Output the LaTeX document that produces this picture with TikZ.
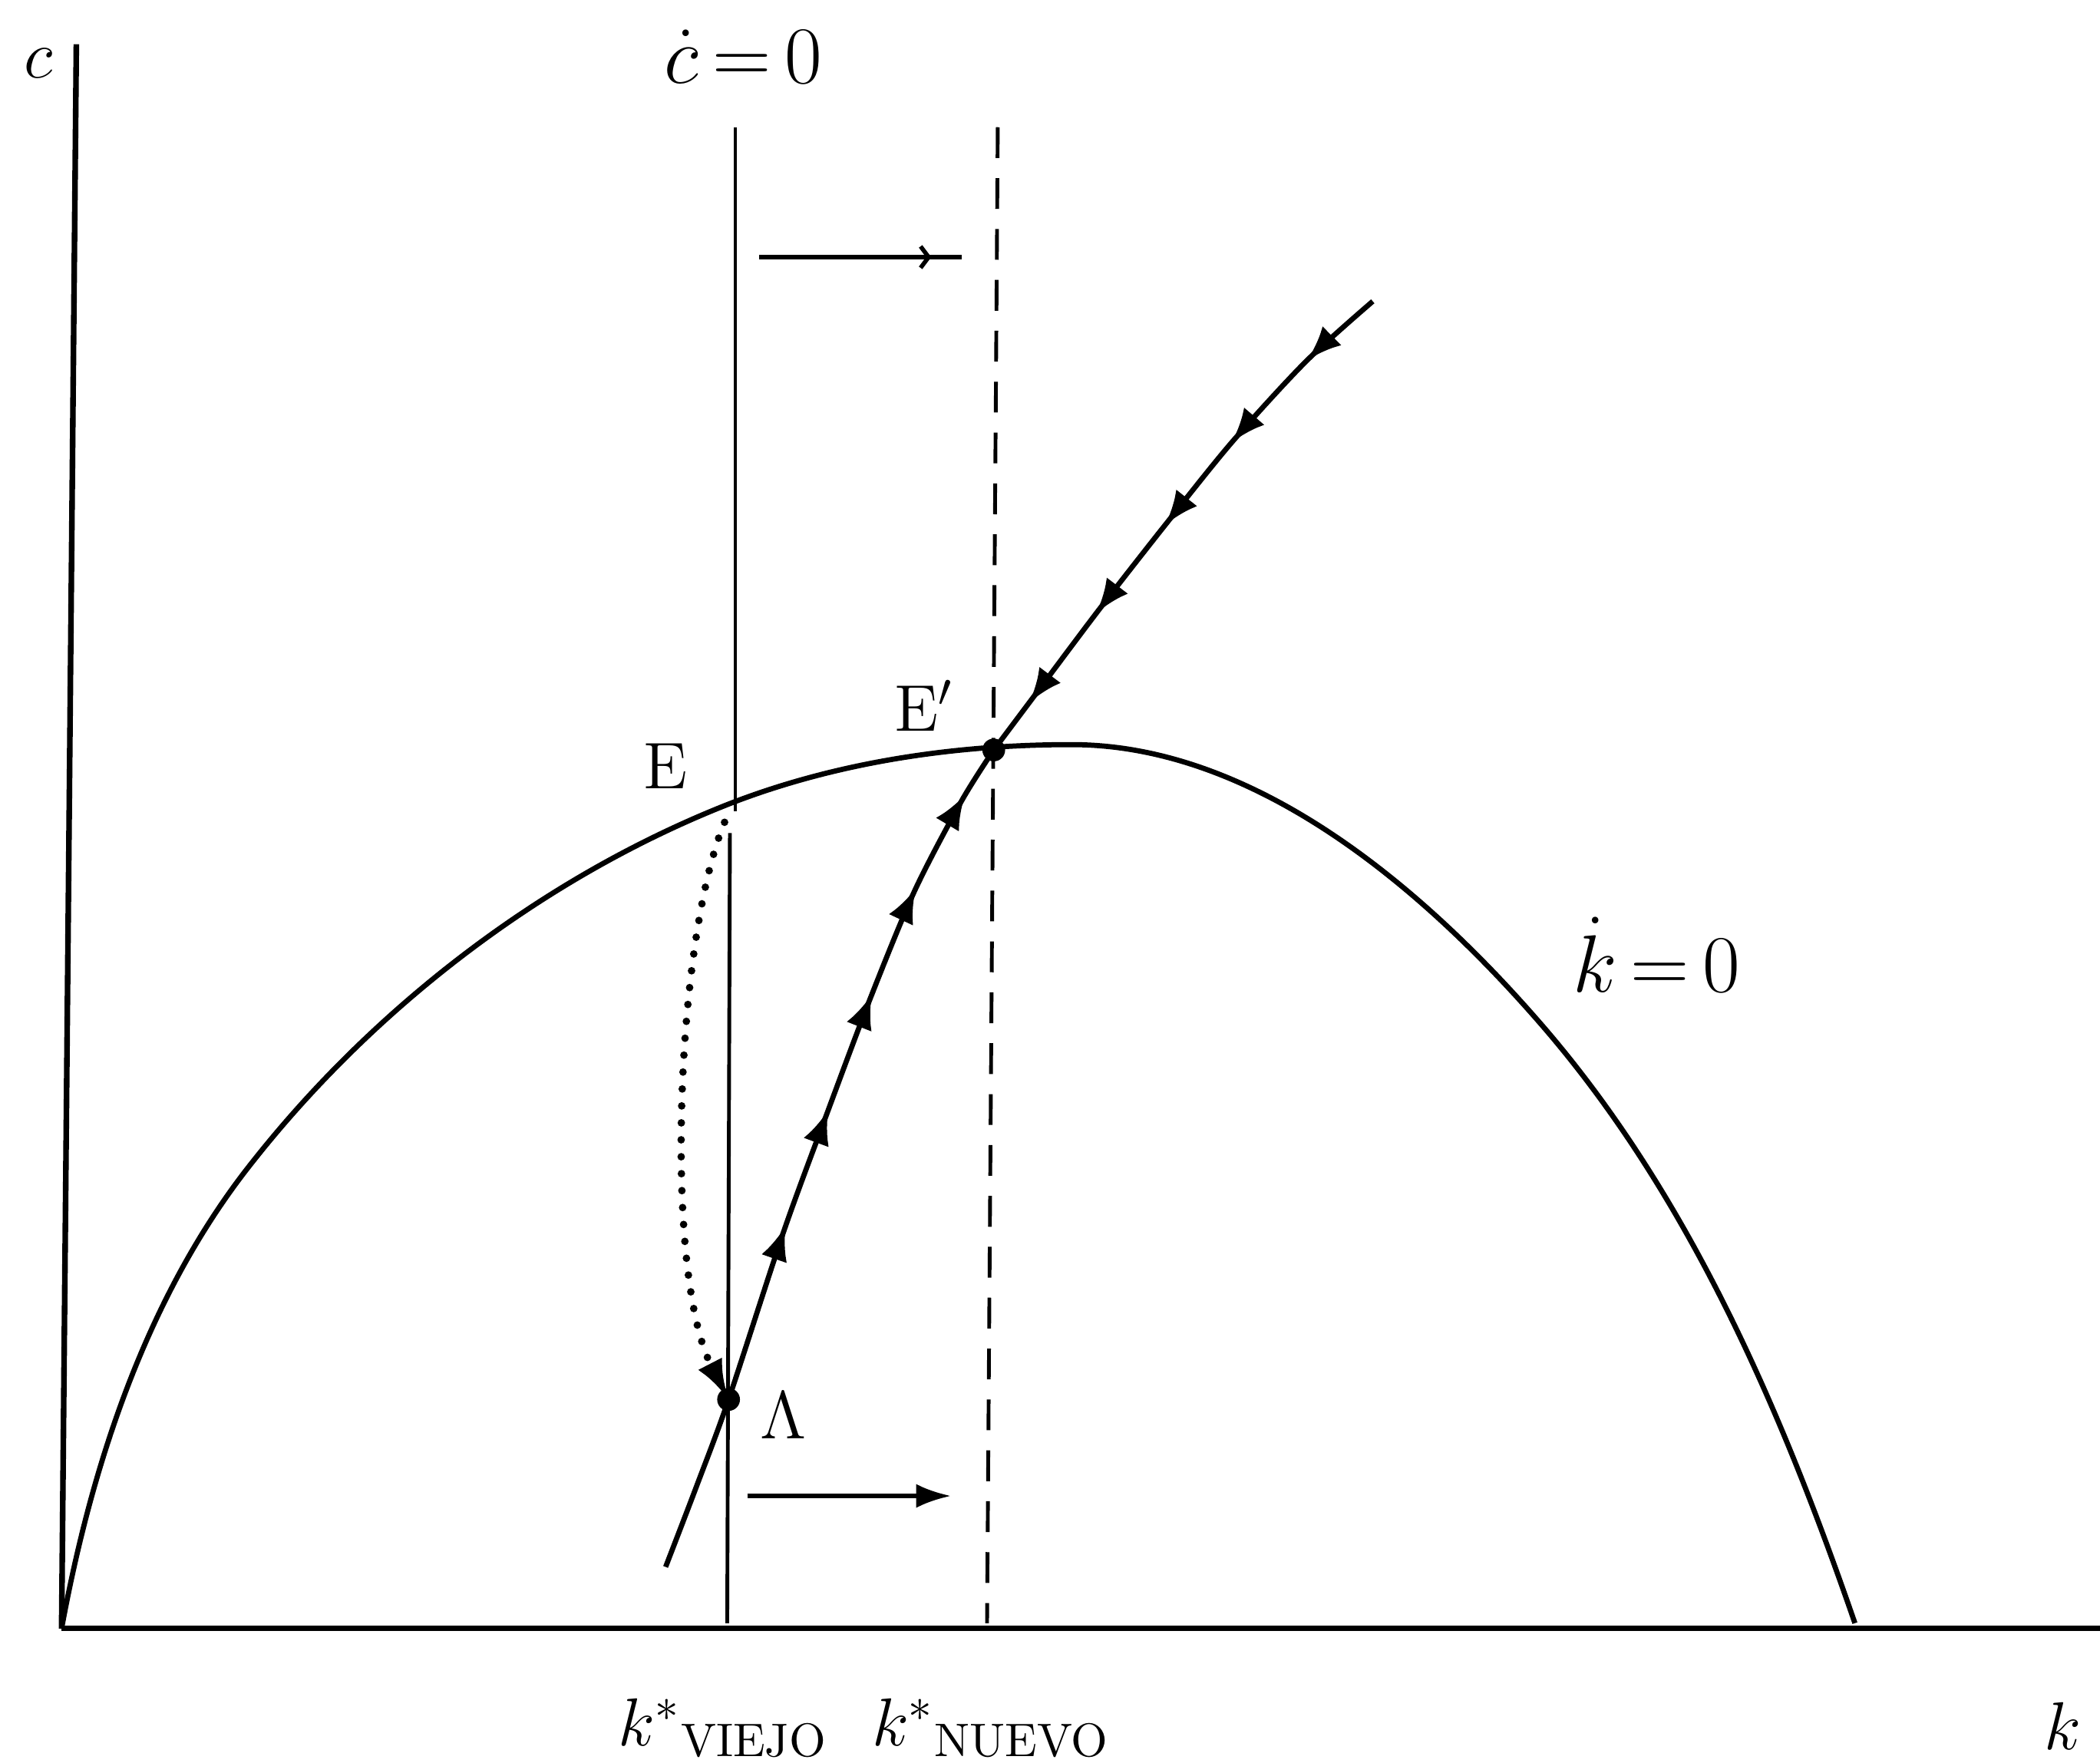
\documentclass[tikz,border=0pt]{standalone}
\usepackage{amsmath}
\usetikzlibrary{arrows.meta, decorations.markings}
\tikzset{
  axis/.style={line width=1.2pt},
  curve/.style={line width=1.1pt, line join=round},
  nullc/.style={line width=0.8pt},
  newnullc/.style={line width=0.8pt, dash pattern=on 2.3mm off 1.5mm},
  moveR/.style={-{Latex[length=2.6mm,width=1.8mm]}, line width=0.9pt},
  faintR/.style={line width=0.9pt, postaction={decorate}, decoration={markings,
      mark=at position 0.85 with {\arrow{Straight Barb[length=0.6mm,width=1.6mm]}}}},
  dotpath/.style={line width=1.6pt, line cap=round, dash pattern=on 0pt off 3.6pt,
                  -{Latex[length=3mm,width=2mm]}},
  eqdot/.style={circle, fill, inner sep=0pt, minimum size=1.7mm},
  lbl/.style={font=\fontsize{16}{18}\selectfont, inner sep=0pt},
  lblE/.style={font=\fontsize{14}{16}\selectfont, inner sep=0pt},
  flowup/.style={postaction={decorate}, decoration={markings,
      mark=at position 0.41 with {\arrow{Latex[length=2.6mm,width=2mm]}},
      mark=at position 0.55 with {\arrow{Latex[length=2.6mm,width=2mm]}},
      mark=at position 0.69 with {\arrow{Latex[length=2.6mm,width=2mm]}},
      mark=at position 0.82 with {\arrow{Latex[length=2.6mm,width=2mm]}},
      mark=at position 0.94 with {\arrow{Latex[length=2.6mm,width=2mm]}}}},
  flowdown/.style={postaction={decorate}, decoration={markings,
      mark=at position 0.15 with {\arrow{Latex[length=2.6mm,width=2mm]}},
      mark=at position 0.34 with {\arrow{Latex[length=2.6mm,width=2mm]}},
      mark=at position 0.52 with {\arrow{Latex[length=2.6mm,width=2mm]}},
      mark=at position 0.71 with {\arrow{Latex[length=2.6mm,width=2mm]}},
      mark=at position 0.90 with {\arrow{Latex[length=2.6mm,width=2mm]}}}}
}

\begin{document}
\begin{tikzpicture}[x=0.1mm, y=-0.1mm]
  \useasboundingbox (0,0) rectangle (1568,1316);

  % Points
  \coordinate (O)    at (46,1216);
  \coordinate (yend) at (57,33);
  \coordinate (xend) at (1568,1216);
  \coordinate (ctop) at (549,95);
  \coordinate (cE)   at (549,606);
  \coordinate (cE2)  at (545,622);
  \coordinate (cbot) at (543,1212);
  \coordinate (ntop) at (745,95);
  \coordinate (nbot) at (737,1212);
  \coordinate (E)    at (541,614);
  \coordinate (A)    at (544,1045);
  \coordinate (Ep)   at (742,560);
  \coordinate (sbot) at (497,1170);
  \coordinate (stop) at (1025,225);
  \coordinate (a1)   at (567,192);
  \coordinate (a2)   at (718,192);
  \coordinate (b1)   at (558,1117);
  \coordinate (b2)   at (710,1117);
  \coordinate (kA)   at (182,876);
  \coordinate (kE)   at (540,602);
  \coordinate (kP)   at (800,556);
  \coordinate (kB)   at (1150,764);
  \coordinate (kend) at (1385,1212);

  % Axes
  \draw[axis] (O) -- (yend);
  \draw[axis] (O) -- (xend);

  % c-dot = 0 (old) and (new)
  \draw[nullc] (ctop) -- (cE);
  \draw[nullc] (cE2) -- (cbot);
  \draw[newnullc] (ntop) -- (nbot);

  % k-dot = 0
  \draw[curve] (O) .. controls (68,1096) and (108,973) .. (kA)
    .. controls (273.5,757) and (401,657.7) .. (kE)
    .. controls (621.7,569.4) and (712,556) .. (kP)
    .. controls (936,556) and (1060.8,661.3) .. (kB)
    .. controls (1260.9,891.6) and (1329.9,1052.3) .. (kend);

  % Saddle path
  \draw[curve, flowup] plot[smooth] coordinates {(sbot) (520,1110) (A) (585,920)
    (618,830) (650,745) (683,665) (718,598) (Ep)};
  \draw[curve, flowdown] plot[smooth] coordinates {(stop) (975,270) (920,330)
    (870,392) (820,456) (772,520) (Ep)};

  % Jump from E to A
  \draw[dotpath] (E) .. controls (505,700) and (495,950) .. (A);

  % Shift arrows
  \draw[faintR] (a1) -- (a2);
  \draw[moveR] (b1) -- (b2);

  % Equilibria
  \node[eqdot] (Adot)  at (A)  {};
  \node[eqdot] (Epdot) at (Ep) {};

  % Labels
  \node[lblE] (clab)  at (29,47)    {$c$};
  \node[lbl]  (cdot)  at (555,42)   {$\dot{c}\,{=}\,0$};
  \node[lbl]  (kdot)  at (1237,713) {$\dot{k}\,{=}\,0$};
  \node[lblE] (Elab)  at (497,572)  {E};
  \node[lblE] (Eplab) at (690,527)  {E$'$};
  \node[lblE] (Alab)  at (585,1057) {$\Lambda$};
  \node[lblE] (kv)    at (540,1290) {$k^{*}{}_{\mathrm{VIEJO}}$};
  \node[lblE] (kn)    at (740,1290) {$k^{*}{}_{\mathrm{NUEVO}}$};
  \node[lblE] (klab)  at (1540,1289) {$k$};
\end{tikzpicture}
\end{document}
